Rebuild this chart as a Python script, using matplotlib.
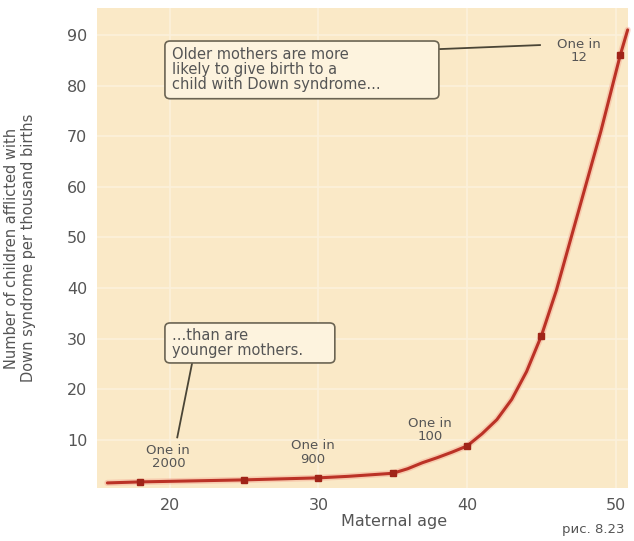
import numpy as np
import matplotlib.pyplot as plt
from matplotlib.patches import FancyBboxPatch

# curve (maternal age, cases per thousand births)
age = [15.8, 18, 25, 30, 32, 35, 36, 37, 38, 39, 40, 41, 42, 43, 44, 45, 46, 47, 48, 49, 50.3, 50.8]
rate = [1.5, 1.7, 2.1, 2.5, 2.8, 3.4, 4.3, 5.5, 6.5, 7.6, 8.8, 11.2, 14, 18, 23.5, 30.6, 39.5, 50, 60.5, 71, 86, 91]

# marked points on the curve
mark_age = [18, 25, 30, 35, 40, 45, 50.3]
mark_rate = [1.7, 2.1, 2.5, 3.4, 8.8, 30.6, 86]

odds_text = ['One in\n2000', 'One in\n900', 'One in\n100', 'One in\n12']
odds_age = [19.9, 29.6, 37.5, 47.5]
odds_rate = [6.6, 7.5, 12.0, 86.8]

xticks = [20, 30, 40, 50]
yticks = [10, 20, 30, 40, 50, 60, 70, 80, 90]

bg = '#fae9c7'
txt = '#555555'

fig = plt.figure(figsize=(6.34, 5.41), dpi=100)
ax = fig.add_axes([0.153, 0.098, 0.837, 0.887])
ax.set_facecolor(bg)
for s in ax.spines.values():
    s.set_visible(False)

ax.set_xlim(15.1, 50.8)
ax.set_ylim(0.5, 95.3)
ax.set_xticks(xticks)
ax.set_yticks(yticks)
ax.tick_params(length=0, labelsize=11.5, labelcolor=txt, pad=7)
ax.grid(True, color='#fcf1dc', linewidth=1.1)
ax.set_axisbelow(True)

# soft glow under the line
ax.plot(age, rate, color='#f4a58f', linewidth=4.5, alpha=0.45, solid_capstyle='round', clip_on=False)
ax.plot(age, rate, color='#bb3226', linewidth=2.2, solid_capstyle='round', clip_on=False)
ax.plot(mark_age, mark_rate, 's', color='#a02418', markersize=4.5, clip_on=False)

for t, x, y in zip(odds_text, odds_age, odds_rate):
    ax.text(x, y, t, ha='center', va='center', fontsize=9.5, color=txt, linespacing=1.05)

def callout(x0, x1, y0, y1, text):
    ax.add_patch(FancyBboxPatch((x0, y0), x1 - x0, y1 - y0,
                                boxstyle='round,pad=0,rounding_size=0.35',
                                mutation_aspect=2.6,
                                facecolor='#fdf3de', edgecolor='#6b6453', linewidth=1.2, zorder=3))
    ax.text(x0 + 0.45, (y0 + y1) / 2, text, ha='left', va='center', fontsize=10.5,
            color=txt, linespacing=1.0, zorder=4)

callout(19.67, 38.1, 77.4, 88.8, 'Older mothers are more\nlikely to give birth to a\nchild with Down syndrome...')
ax.plot([38.1, 44.9], [87.2, 88.0], color='#4a4536', linewidth=1.3)

callout(19.67, 31.1, 25.2, 33.1, '...than are\nyounger mothers.')
ax.plot([21.5, 20.5], [25.2, 10.5], color='#4a4536', linewidth=1.3)

ax.set_xlabel('Maternal age', fontsize=11.5, color=txt, labelpad=3)
ax.xaxis.set_label_coords(0.56, -0.055)
ax.set_ylabel('Number of children afflicted with\nDown syndrome per thousand births',
              fontsize=10.5, color=txt, labelpad=8)
ax.yaxis.set_label_coords(-0.115, 0.5)
fig.text(0.985, 0.01, 'рис. 8.23', ha='right', va='bottom', fontsize=9.5, color=txt)

fig.savefig('out.png', dpi=100)
